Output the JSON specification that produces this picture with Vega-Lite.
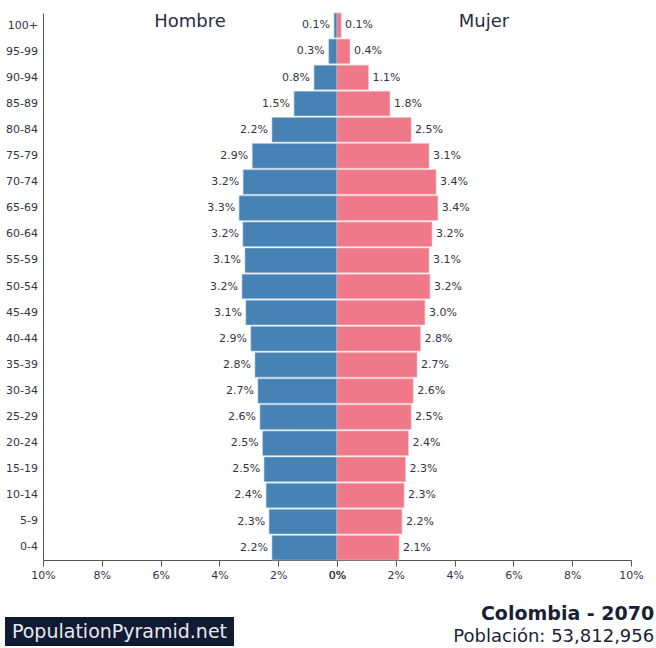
{
  "$schema": "https://vega.github.io/schema/vega-lite/v6.json",
  "padding": {"left": 5, "top": 12, "right": 2, "bottom": 2},
  "background": "white",
  "config": {
    "font": "DejaVu Sans",
    "view": {"stroke": null},
    "axis": {"labelFont": "DejaVu Sans", "labelFontSize": 11, "labelColor": "#333344", "domainColor": "#555555", "tickColor": "#555555", "grid": false},
    "axisX": {"tickSize": 6, "labelFlush": false, "labelOverlap": false, "labelPadding": 3}
  },
  "datasets": {
    "pop": [
      {"age": "100+", "sex": "Hombre", "pct": 0.0010}, {"age": "95-99", "sex": "Hombre", "pct": 0.0028},
      {"age": "90-94", "sex": "Hombre", "pct": 0.0078}, {"age": "85-89", "sex": "Hombre", "pct": 0.0146},
      {"age": "80-84", "sex": "Hombre", "pct": 0.0221}, {"age": "75-79", "sex": "Hombre", "pct": 0.0288},
      {"age": "70-74", "sex": "Hombre", "pct": 0.0319}, {"age": "65-69", "sex": "Hombre", "pct": 0.0333},
      {"age": "60-64", "sex": "Hombre", "pct": 0.0320}, {"age": "55-59", "sex": "Hombre", "pct": 0.0313},
      {"age": "50-54", "sex": "Hombre", "pct": 0.0323}, {"age": "45-49", "sex": "Hombre", "pct": 0.0310},
      {"age": "40-44", "sex": "Hombre", "pct": 0.0293}, {"age": "35-39", "sex": "Hombre", "pct": 0.0279},
      {"age": "30-34", "sex": "Hombre", "pct": 0.0269}, {"age": "25-29", "sex": "Hombre", "pct": 0.0262},
      {"age": "20-24", "sex": "Hombre", "pct": 0.0253}, {"age": "15-19", "sex": "Hombre", "pct": 0.0248},
      {"age": "10-14", "sex": "Hombre", "pct": 0.0241}, {"age": "5-9", "sex": "Hombre", "pct": 0.0231},
      {"age": "0-4", "sex": "Hombre", "pct": 0.0221},
      {"age": "100+", "sex": "Mujer", "pct": 0.0014}, {"age": "95-99", "sex": "Mujer", "pct": 0.0044},
      {"age": "90-94", "sex": "Mujer", "pct": 0.0107}, {"age": "85-89", "sex": "Mujer", "pct": 0.0180},
      {"age": "80-84", "sex": "Mujer", "pct": 0.0252}, {"age": "75-79", "sex": "Mujer", "pct": 0.0313},
      {"age": "70-74", "sex": "Mujer", "pct": 0.0337}, {"age": "65-69", "sex": "Mujer", "pct": 0.0343},
      {"age": "60-64", "sex": "Mujer", "pct": 0.0323}, {"age": "55-59", "sex": "Mujer", "pct": 0.0313},
      {"age": "50-54", "sex": "Mujer", "pct": 0.0316}, {"age": "45-49", "sex": "Mujer", "pct": 0.0299},
      {"age": "40-44", "sex": "Mujer", "pct": 0.0284}, {"age": "35-39", "sex": "Mujer", "pct": 0.0272},
      {"age": "30-34", "sex": "Mujer", "pct": 0.0259}, {"age": "25-29", "sex": "Mujer", "pct": 0.0252},
      {"age": "20-24", "sex": "Mujer", "pct": 0.0243}, {"age": "15-19", "sex": "Mujer", "pct": 0.0233},
      {"age": "10-14", "sex": "Mujer", "pct": 0.0228}, {"age": "5-9", "sex": "Mujer", "pct": 0.0221},
      {"age": "0-4", "sex": "Mujer", "pct": 0.0211}
    ]
  },
  "title": {
    "text": "Colombia - 2070",
    "subtitle": "Población: 53,812,956",
    "orient": "bottom",
    "anchor": "end",
    "offset": -41,
    "dx": 11,
    "fontSize": 19,
    "fontWeight": "bold",
    "color": "#1a1f36",
    "subtitleFontSize": 18,
    "subtitleColor": "#1a1f36",
    "subtitlePadding": 4
  },
  "spacing": 37,
  "vconcat": [
    {
      "spacing": 0,
      "bounds": "flush",
      "hconcat": [
        {
          "width": 38,
          "height": 547,
          "data": {"name": "pop"},
          "transform": [{"filter": "datum.sex === 'Hombre'"}],
          "mark": {"type": "text", "align": "right", "baseline": "middle", "dx": -5, "fontSize": 11, "color": "#333344"},
          "encoding": {
            "y": {"field": "age", "type": "nominal",
                  "sort": ["100+", "95-99", "90-94", "85-89", "80-84", "75-79", "70-74", "65-69", "60-64", "55-59", "50-54", "45-49", "40-44", "35-39", "30-34", "25-29", "20-24", "15-19", "10-14", "5-9", "0-4"],
                  "scale": {"paddingInner": 0.06, "paddingOuter": 0},
                  "axis": null},
            "x": {"value": "width"},
            "text": {"field": "age", "type": "nominal"}
          }
        },
        {
          "width": 294,
          "height": 547,
          "title": {"text": "Hombre", "offset": -18, "fontSize": 18, "fontWeight": "normal", "color": "#2a2d3e"},
          "data": {"name": "pop"},
          "transform": [{"filter": "datum.sex === 'Hombre'"}],
          "encoding": {
            "y": {"field": "age", "type": "nominal",
                  "sort": ["100+", "95-99", "90-94", "85-89", "80-84", "75-79", "70-74", "65-69", "60-64", "55-59", "50-54", "45-49", "40-44", "35-39", "30-34", "25-29", "20-24", "15-19", "10-14", "5-9", "0-4"],
                  "scale": {"paddingInner": 0.06, "paddingOuter": 0},
                  "axis": {"title": null, "ticks": false, "labels": false, "domain": true}},
            "x": {"field": "pct", "type": "quantitative",
                  "scale": {"domain": [0, 0.1], "reverse": true},
                  "axis": {"title": null, "format": ".0%", "values": [0, 0.02, 0.04, 0.06, 0.08, 0.1]}}
          },
          "layer": [
            {"mark": {"type": "bar", "fill": "#4682b4", "stroke": "#a9c5dd", "strokeWidth": 0.6}},
            {"mark": {"type": "text", "align": "right", "dx": -4, "fontSize": 11, "color": "#333344"},
             "encoding": {"text": {"field": "pct", "type": "quantitative", "format": ".1%"}}}
          ]
        },
        {
          "width": 294,
          "height": 547,
          "title": {"text": "Mujer", "offset": -18, "fontSize": 18, "fontWeight": "normal", "color": "#2a2d3e"},
          "data": {"name": "pop"},
          "transform": [{"filter": "datum.sex === 'Mujer'"}],
          "encoding": {
            "y": {"field": "age", "type": "nominal",
                  "sort": ["100+", "95-99", "90-94", "85-89", "80-84", "75-79", "70-74", "65-69", "60-64", "55-59", "50-54", "45-49", "40-44", "35-39", "30-34", "25-29", "20-24", "15-19", "10-14", "5-9", "0-4"],
                  "scale": {"paddingInner": 0.06, "paddingOuter": 0},
                  "axis": null},
            "x": {"field": "pct", "type": "quantitative",
                  "scale": {"domain": [0, 0.1]},
                  "axis": {"title": null, "format": ".0%", "values": [0, 0.02, 0.04, 0.06, 0.08, 0.1]}}
          },
          "layer": [
            {"mark": {"type": "bar", "fill": "#ef7989", "stroke": "#f7b8c1", "strokeWidth": 0.6}},
            {"mark": {"type": "text", "align": "left", "dx": 4, "fontSize": 11, "color": "#333344"},
             "encoding": {"text": {"field": "pct", "type": "quantitative", "format": ".1%"}}}
          ]
        }
      ]
    },
    {
      "width": 229,
      "height": 29,
      "view": {"fill": "#111a33", "stroke": null},
      "data": {"values": [{"label": "PopulationPyramid.net"}]},
      "mark": {"type": "text", "color": "#e8e8ee", "fontSize": 19},
      "encoding": {"text": {"field": "label", "type": "nominal"}}
    }
  ]
}
